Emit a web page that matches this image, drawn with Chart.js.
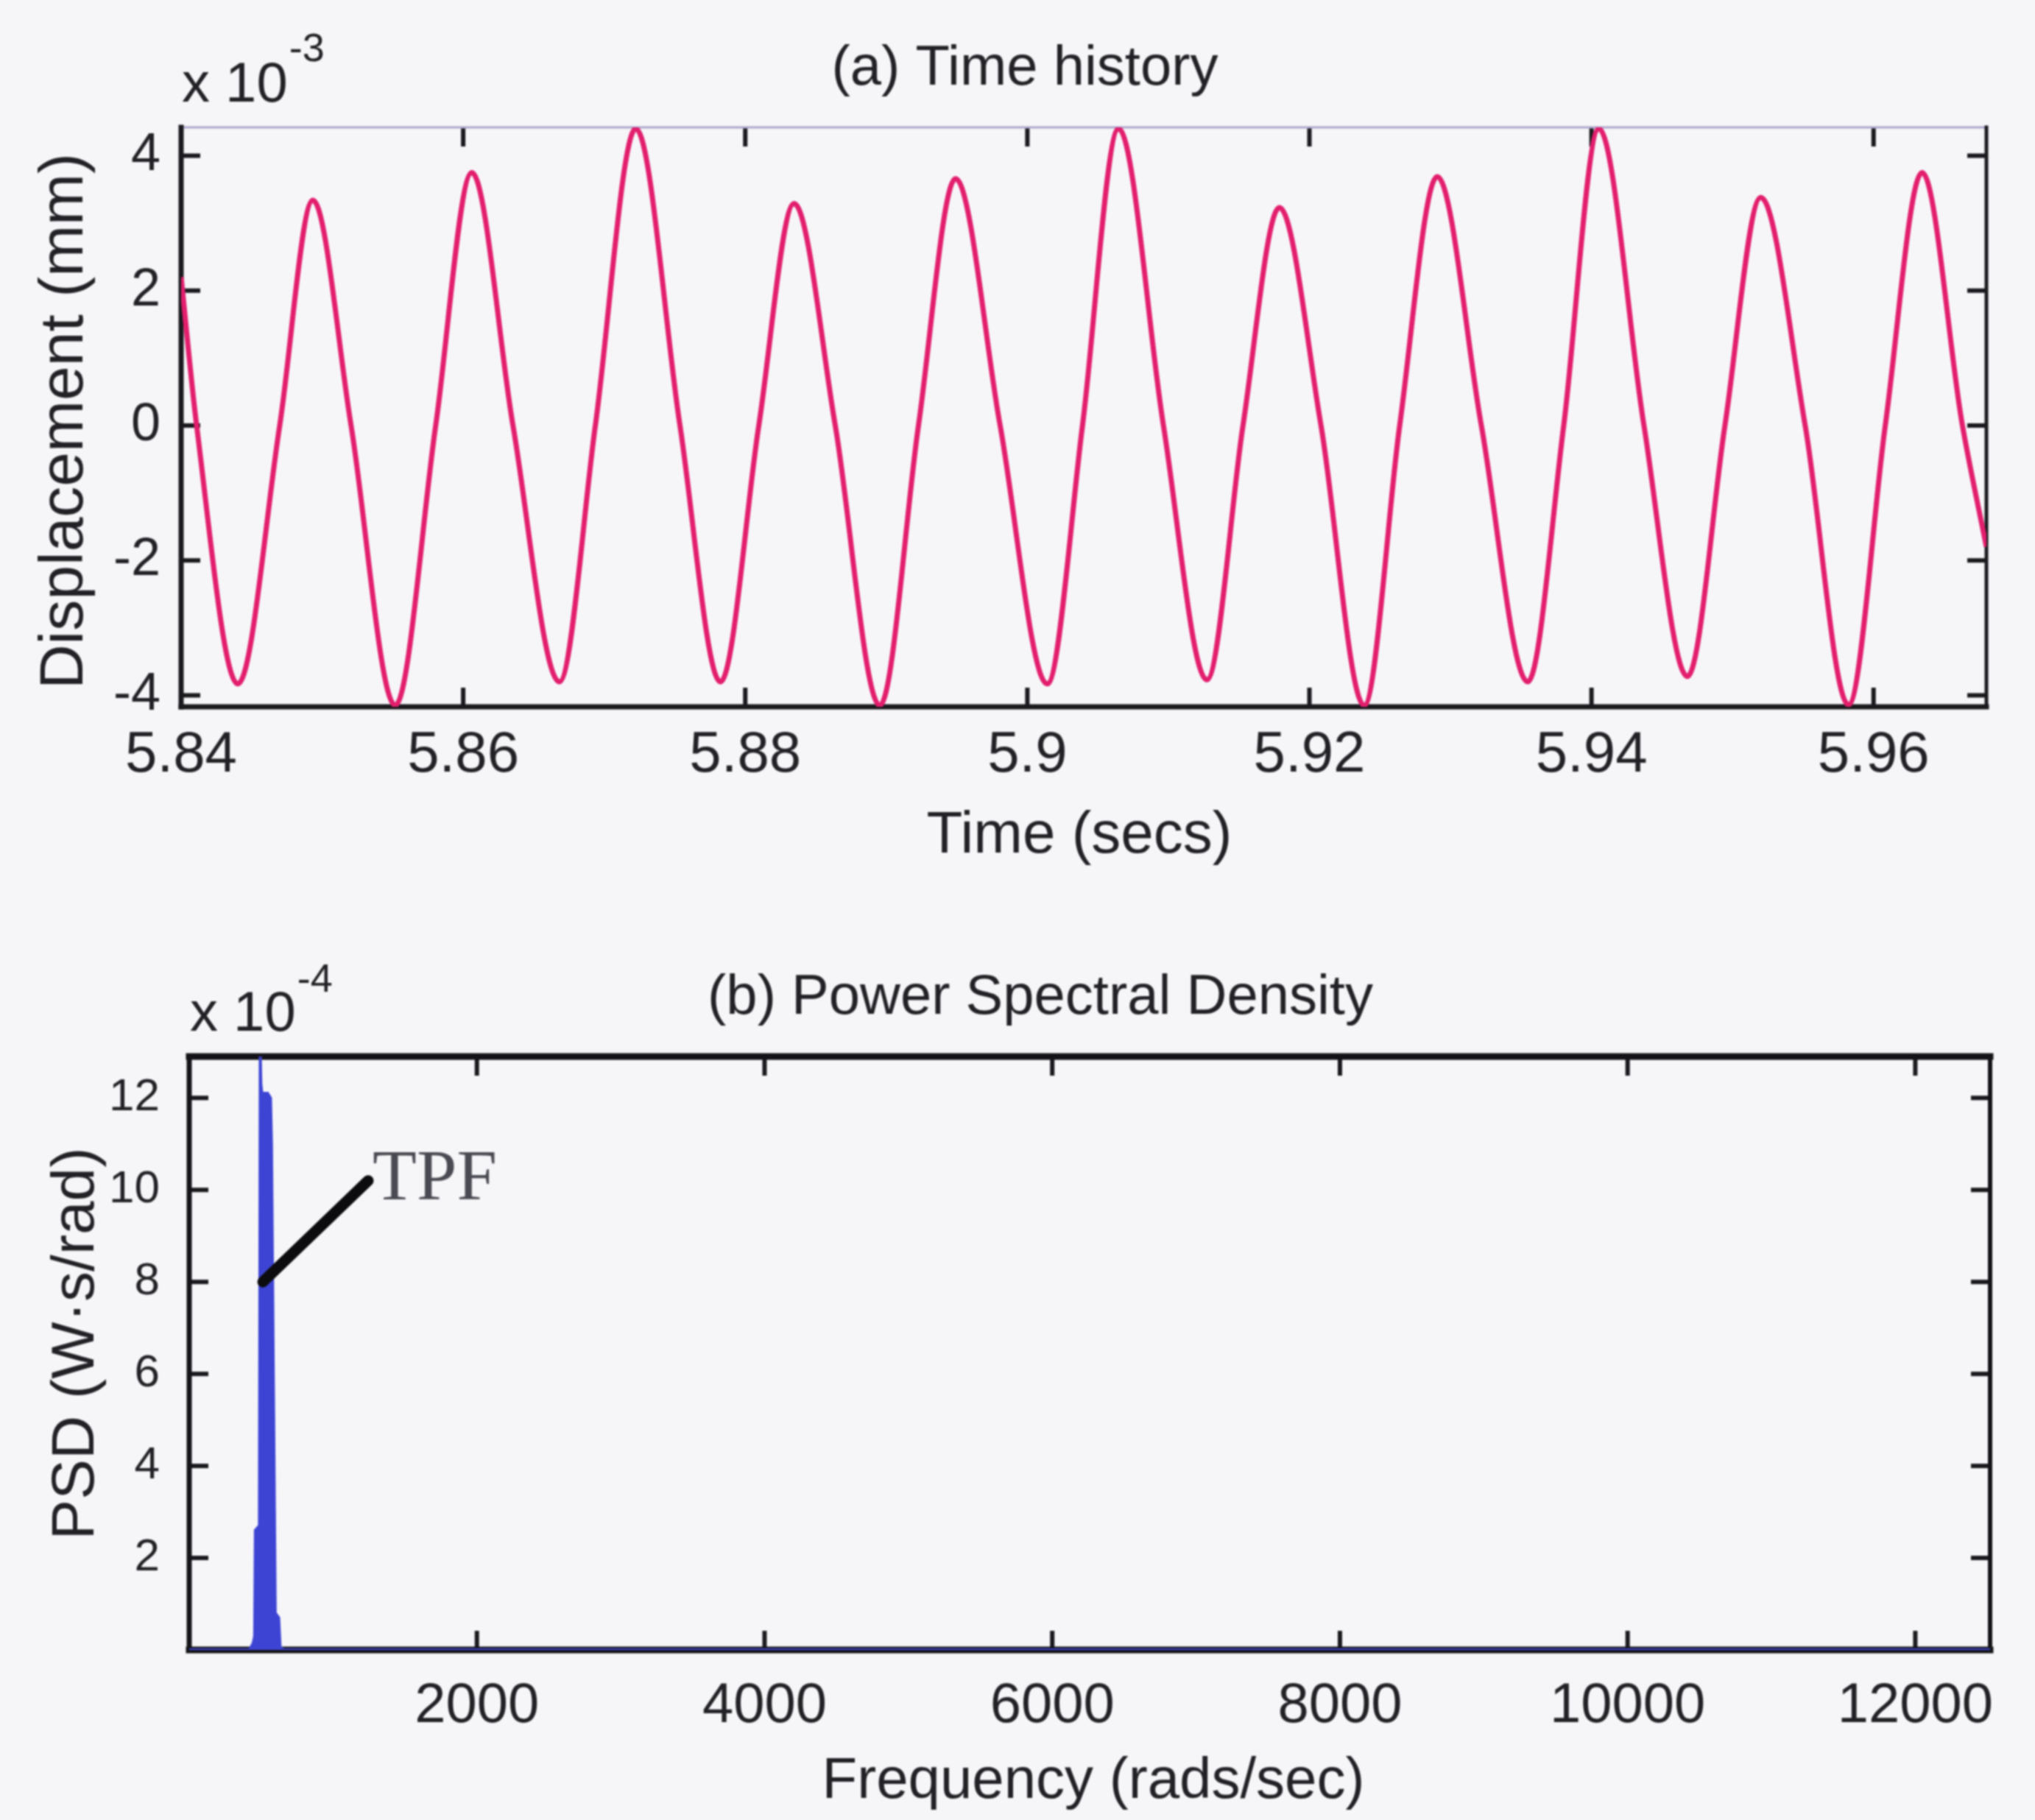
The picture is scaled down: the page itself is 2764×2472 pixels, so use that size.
<!DOCTYPE html>
<html>
<head>
<meta charset="utf-8">
<script src="https://cdn.jsdelivr.net/npm/chart.js@4.4.1/dist/chart.umd.min.js"></script>
<style>
  html, body { margin: 0; padding: 0; background: #f6f6f9; }
  #wrap { position: relative; width: 2764px; height: 2472px; overflow: hidden; background: #f6f6f9; }
  canvas { position: absolute; left: 0; filter: blur(0.8px); }
  #histCanvas { top: 0; }
  #psdCanvas { top: 1240px; }
</style>
</head>
<body>
<div id="wrap">
  <canvas id="histCanvas" width="2764" height="1240"></canvas>
  <canvas id="psdCanvas" width="2764" height="1232"></canvas>
</div>
<script>
// ---------- (a) Time history: displacement in units of 1e-3 mm ----------
// peaks, troughs and zero crossings along the trace
const timeSec = [
  5.8400, 5.8411, 5.84402, 5.84699, 5.84934, 5.85205, 5.85518, 5.85805,
  5.86061, 5.86353, 5.86682, 5.86937, 5.87224, 5.87537, 5.87824, 5.88096,
  5.88346, 5.88638, 5.88954, 5.89228, 5.89491, 5.89807, 5.90141, 5.90391,
  5.90647, 5.90965, 5.91273, 5.91529, 5.91787, 5.92082, 5.92388, 5.92640,
  5.92906, 5.93219, 5.93548, 5.93803, 5.94052, 5.94372, 5.94680, 5.94946,
  5.95200, 5.95515, 5.95822, 5.96083, 5.96344, 5.96630, 5.96800
];
const displacement = [
  2.2, 0, -3.83, 0, 3.34, 0, -4.15, 0,
  3.75, 0, -3.80, 0, 4.40, 0, -3.80, 0,
  3.29, 0, -4.15, 0, 3.66, 0, -3.83, 0,
  4.40, 0, -3.77, 0, 3.23, 0, -4.15, 0,
  3.69, 0, -3.80, 0, 4.40, 0, -3.72, 0,
  3.38, 0, -4.14, 0, 3.75, 0, -1.8
];
const timeTicks = [5.84, 5.86, 5.88, 5.90, 5.92, 5.94, 5.96];
const dispTicks = [-4, -2, 0, 2, 4];
const timeRange = [5.84, 5.968];
const dispRange = [-4.17, 4.42];

// ---------- (b) Power spectral density in units of 1e-4 W·s/rad ----------
const freqRad = [0, 420, 445, 455, 460, 488, 494, 498, 505, 545, 565, 572, 598, 622, 632, 660, 12520];
const psdValue = [0, 0, 0.15, 0.3, 2.6, 2.7, 12.9, 12.3, 12.1, 12.1, 12.0, 11.0, 0.8, 0.7, 0.05, 0, 0];
const freqTicks = [2000, 4000, 6000, 8000, 10000, 12000];
const psdTicks = [2, 4, 6, 8, 10, 12];
const freqRange = [0, 12520];
const psdRange = [0, 12.9];

// pointer to the peak and its label
const tpfFreq = [512, 1244];
const tpfPsd = [8.0, 10.2];
const tpfText = 'TPF';

// ---------- texts ----------
const histTitle = '(a) Time history';
const histXTitle = 'Time (secs)';
const histYTitle = 'Displacement (mm)';
const histExp = '-3';
const psdTitle = '(b) Power Spectral Density';
const psdXTitle = 'Frequency (rads/sec)';
const psdYTitle = 'PSD (W\u00B7s/rad)';
const psdExp = '-4';

const SANS = "'Liberation Sans', Arial, Helvetica, sans-serif";
const SERIF = "'Liberation Serif', 'Times New Roman', serif";
const INK = '#222226';

function pairs(xs, ys) { return xs.map((x, i) => ({ x, y: ys[i] })); }

function seg(ctx, x1, y1, x2, y2) {
  ctx.beginPath(); ctx.moveTo(x1, y1); ctx.lineTo(x2, y2); ctx.stroke();
}

// Box frame with inward tick marks on all four sides
function framePlugin(o) {
  return {
    id: 'frame',
    beforeDatasetsDraw(chart) {
      const { ctx, chartArea: a, scales: { x, y } } = chart;
      ctx.save();
      ctx.lineCap = 'butt';
      ctx.strokeStyle = o.tickColor;
      ctx.lineWidth = o.tickWidth;
      for (const v of o.xTicks) {
        const px = x.getPixelForValue(v);
        seg(ctx, px, a.bottom, px, a.bottom - o.tickLen);
        seg(ctx, px, a.top, px, a.top + o.tickLen);
      }
      for (const v of o.yTicks) {
        const py = y.getPixelForValue(v);
        seg(ctx, a.left, py, a.left + o.tickLen, py);
        seg(ctx, a.right, py, a.right - o.tickLen, py);
      }
      const s = o.sides;
      ctx.lineCap = 'square';
      ctx.strokeStyle = s.top[0]; ctx.lineWidth = s.top[1]; seg(ctx, a.left, a.top, a.right, a.top);
      ctx.strokeStyle = s.right[0]; ctx.lineWidth = s.right[1]; seg(ctx, a.right, a.top, a.right, a.bottom);
      ctx.strokeStyle = s.bottom[0]; ctx.lineWidth = s.bottom[1]; seg(ctx, a.left, a.bottom, a.right, a.bottom);
      ctx.strokeStyle = s.left[0]; ctx.lineWidth = s.left[1]; seg(ctx, a.left, a.top, a.left, a.bottom);
      ctx.restore();
    }
  };
}

// Title, axis titles and the "x 10^n" multiplier
function textPlugin(o) {
  return {
    id: 'texts',
    afterDraw(chart) {
      const { ctx } = chart;
      ctx.save();
      ctx.fillStyle = INK;
      ctx.textBaseline = 'alphabetic';
      ctx.font = o.titleFont;
      ctx.textAlign = 'center';
      ctx.fillText(o.title, o.titleX, o.titleY);
      ctx.font = o.xFont;
      ctx.fillText(o.xTitle, o.xTitleX, o.xTitleY);
      ctx.save();
      ctx.translate(o.yTitleX, o.yTitleY);
      ctx.rotate(-Math.PI / 2);
      ctx.font = o.yFont;
      ctx.fillText(o.yTitle, 0, 0);
      ctx.restore();
      ctx.textAlign = 'left';
      ctx.font = o.mulFont;
      ctx.fillText('x 10', o.mulX, o.mulY);
      const w = ctx.measureText('x 10').width;
      ctx.font = o.expFont;
      ctx.fillText(o.exp, o.mulX + w + 2, o.expY);
      if (o.extra) o.extra(chart, ctx);
      ctx.restore();
    }
  };
}

function fixedTicks(values) {
  return (scale) => { scale.ticks = values.map(v => ({ value: v })); };
}

// ---------------- chart (a) ----------------
new Chart(document.getElementById('histCanvas'), {
  type: 'line',
  data: {
    datasets: [{
      data: pairs(timeSec, displacement),
      borderColor: '#e21e6d',
      borderWidth: 7,
      pointRadius: 0,
      cubicInterpolationMode: 'monotone',
      fill: false
    }]
  },
  options: {
    responsive: false,
    animation: false,
    devicePixelRatio: 1,
    layout: { padding: { top: 173, right: 66, left: 0, bottom: 0 } },
    plugins: { legend: { display: false }, tooltip: { enabled: false }, title: { display: false } },
    scales: {
      x: {
        type: 'linear', min: timeRange[0], max: timeRange[1],
        afterBuildTicks: fixedTicks(timeTicks),
        afterFit: (s) => { s.height = 280; },
        grid: { display: false, drawTicks: false, tickLength: 0 },
        border: { display: false },
        ticks: {
          autoSkip: false, maxRotation: 0, padding: 20, color: INK,
          font: { family: SANS, size: 78 },
          callback: (v) => String(+(+v).toFixed(2))
        }
      },
      y: {
        type: 'linear', min: dispRange[0], max: dispRange[1],
        afterBuildTicks: fixedTicks(dispTicks),
        afterFit: (s) => { s.width = 246; },
        grid: { display: false, drawTicks: false, tickLength: 0 },
        border: { display: false },
        ticks: {
          autoSkip: false, padding: 28, color: INK,
          font: { family: SANS, size: 72 },
          callback: (v) => String(v)
        }
      }
    }
  },
  plugins: [
    framePlugin({
      xTicks: timeTicks, yTicks: dispTicks, tickLen: 26, tickWidth: 6, tickColor: '#1a1a1e',
      sides: { top: ['#aca6cc', 3], right: ['#1a1a1e', 5], bottom: ['#1a1a1e', 7], left: ['#1a1a1e', 7] }
    }),
    textPlugin({
      title: histTitle, titleFont: `76px ${SANS}`, titleX: 1392, titleY: 115,
      xTitle: histXTitle, xFont: `80px ${SANS}`, xTitleX: 1466, xTitleY: 1158,
      yTitle: histYTitle, yFont: `84px ${SANS}`, yTitleX: 112, yTitleY: 572,
      mulFont: `76px ${SANS}`, mulX: 247, mulY: 138, expFont: `54px ${SANS}`, exp: histExp, expY: 83
    })
  ]
});

// ---------------- chart (b) ----------------
const BLUE = '#3d44d4';
new Chart(document.getElementById('psdCanvas'), {
  type: 'line',
  data: {
    datasets: [
      {
        data: pairs(tpfFreq, tpfPsd),
        borderColor: '#0c0c0e',
        borderWidth: 15,
        borderCapStyle: 'round',
        pointRadius: 0,
        fill: false,
        tension: 0
      },
      {
        data: pairs(freqRad, psdValue),
        borderColor: BLUE,
        backgroundColor: BLUE,
        borderWidth: 4,
        pointRadius: 0,
        fill: 'origin',
        tension: 0
      }
    ]
  },
  options: {
    responsive: false,
    animation: false,
    devicePixelRatio: 1,
    layout: { padding: { top: 195, right: 61, left: 0, bottom: 0 } },
    plugins: { legend: { display: false }, tooltip: { enabled: false }, title: { display: false } },
    scales: {
      x: {
        type: 'linear', min: freqRange[0], max: freqRange[1],
        afterBuildTicks: fixedTicks(freqTicks),
        afterFit: (s) => { s.height = 231; },
        grid: { display: false, drawTicks: false, tickLength: 0 },
        border: { display: false },
        ticks: {
          autoSkip: false, maxRotation: 0, padding: 31, color: INK,
          font: { family: SANS, size: 76 },
          callback: (v) => String(v)
        }
      },
      y: {
        type: 'linear', min: psdRange[0], max: psdRange[1],
        afterBuildTicks: fixedTicks(psdTicks),
        afterFit: (s) => { s.width = 257; },
        grid: { display: false, drawTicks: false, tickLength: 0 },
        border: { display: false },
        ticks: {
          autoSkip: false, padding: 40, color: INK,
          font: { family: SANS, size: 62 },
          callback: (v) => String(v)
        }
      }
    }
  },
  plugins: [
    framePlugin({
      xTicks: freqTicks, yTicks: psdTicks, tickLen: 26, tickWidth: 6, tickColor: '#1a1a1e',
      sides: { top: ['#141418', 9], right: ['#141418', 6], bottom: ['#141418', 9], left: ['#141418', 7] }
    }),
    textPlugin({
      title: psdTitle, titleFont: `76px ${SANS}`, titleX: 1413, titleY: 137,
      xTitle: psdXTitle, xFont: `78px ${SANS}`, xTitleX: 1485, xTitleY: 1202,
      yTitle: psdYTitle, yFont: `82px ${SANS}`, yTitleX: 127, yTitleY: 585,
      mulFont: `76px ${SANS}`, mulX: 258, mulY: 160, expFont: `54px ${SANS}`, exp: psdExp, expY: 107,
      extra: (chart, ctx) => {
        const { x, y } = chart.scales;
        ctx.fillStyle = '#4a4a52';
        ctx.font = `98px ${SERIF}`;
        ctx.textAlign = 'left';
        ctx.fillText(tpfText, x.getPixelForValue(tpfFreq[1]) + 6, y.getPixelForValue(tpfPsd[1]) + 25);
      }
    })
  ]
});
</script>
</body>
</html>
